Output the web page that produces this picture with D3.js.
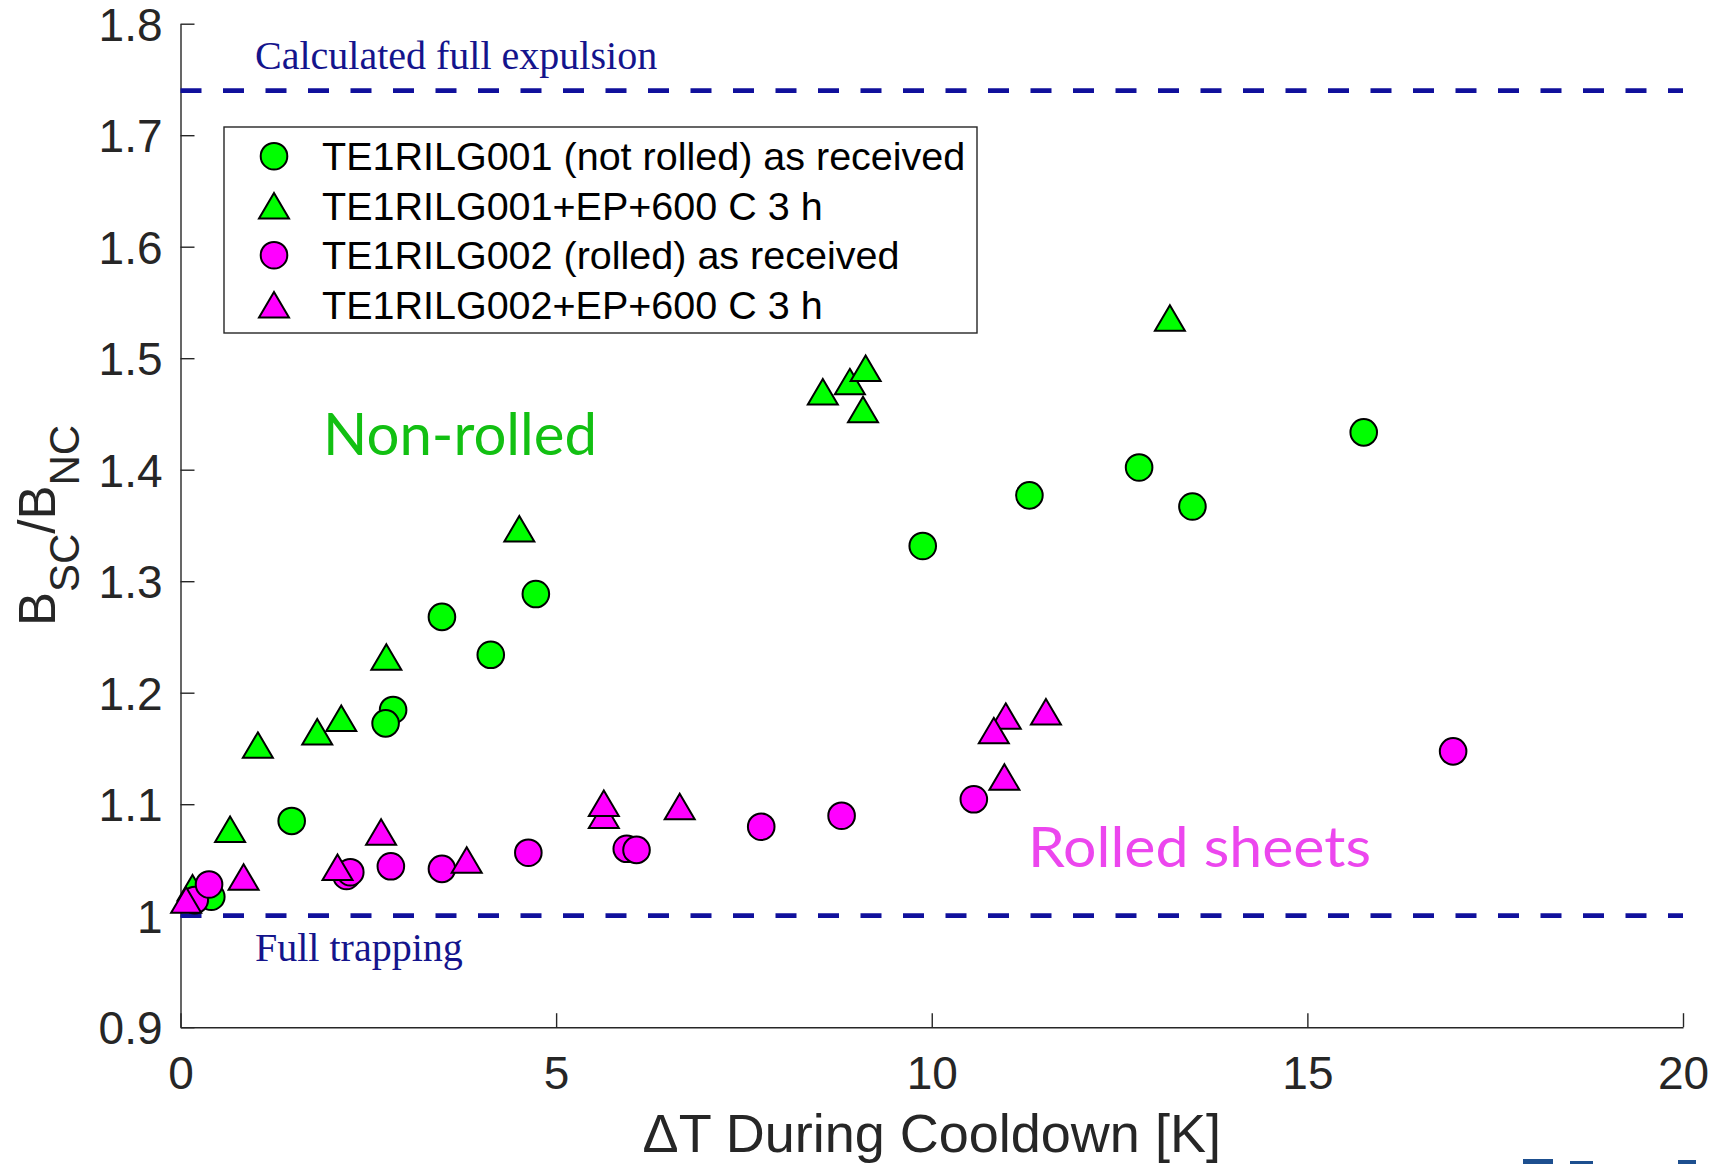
<!DOCTYPE html>
<html>
<head>
<meta charset="utf-8">
<script src="https://cdn.jsdelivr.net/npm/d3@7"></script>
<style>
  html, body { margin: 0; padding: 0; background: #ffffff; }
  svg { display: block; }
</style>
</head>
<body>
<svg id="chart" width="1725" height="1164"></svg>
<script>
// ---------------- DATA ----------------
const xTicks = [0, 5, 10, 15, 20];
const yTicks = [0.9, 1.0, 1.1, 1.2, 1.3, 1.4, 1.5, 1.6, 1.7, 1.8];
const yTickLabels = ["0.9", "1", "1.1", "1.2", "1.3", "1.4", "1.5", "1.6", "1.7", "1.8"];

const seriesNames = [
  "TE1RILG001 (not rolled) as received",
  "TE1RILG001+EP+600 C 3 h",
  "TE1RILG002 (rolled) as received",
  "TE1RILG002+EP+600 C 3 h"
];

// TE1RILG001 (not rolled) as received  — green circles
const g001RecX = [0.41, 1.48, 2.83, 2.73, 3.48, 4.13, 4.73, 9.88, 11.30, 12.76, 13.47, 15.75];
const g001RecY = [1.017, 1.085, 1.1845, 1.1725, 1.268, 1.234, 1.2885, 1.3316, 1.377, 1.402, 1.367, 1.4335];

// TE1RILG001+EP+600 C 3 h — green triangles
const g001EpX = [0.16, 0.66, 1.03, 1.82, 2.14, 2.74, 4.51, 8.55, 8.91, 9.12, 9.085, 13.17];
const g001EpY = [1.025, 1.0775, 1.153, 1.165, 1.177, 1.232, 1.347, 1.470, 1.479, 1.491, 1.454, 1.536];

// TE1RILG002 (rolled) as received — magenta circles
const g002RecX = [0.19, 0.38, 2.21, 2.26, 2.80, 3.48, 4.63, 5.94, 6.07, 7.73, 8.80, 10.56, 16.94];
const g002RecY = [1.014, 1.028, 1.0356, 1.039, 1.0443, 1.042, 1.0565, 1.060, 1.059, 1.0798, 1.0897, 1.1044, 1.1474];

// TE1RILG002+EP+600 C 3 h — magenta triangles
const g002EpX = [0.075, 0.84, 2.09, 2.67, 3.81, 5.635, 5.635, 6.645, 10.985, 10.826, 10.967, 11.52];
const g002EpY = [1.014, 1.0347, 1.0434, 1.075, 1.050, 1.090, 1.1008, 1.098, 1.179, 1.166, 1.1244, 1.183];

// reference levels
const fullExpulsion = 1.74;
const fullTrapping = 1.0;

// ---------------- LAYOUT / STYLE ----------------
const xDomain = [0, 20];
const yDomain = [0.9, 1.8];
const plotLeft = 180.5, plotRight = 1683, plotTop = 23.7, plotBottom = 1027.2;
const axisColor = "#262626";
const navy = "#10109c";
const green = "#00ff00";
const magenta = "#ff00ff";
const tickFont = 46;
const labelFont = 51;
const xLabelFont = 54;
const legendFont = 39.5;

const svg = d3.select("#chart");
const x = d3.scaleLinear().domain(xDomain).range([plotLeft, plotRight]);
const y = d3.scaleLinear().domain(yDomain).range([plotBottom, plotTop]);

// ---------------- AXES ----------------
const xAxis = d3.axisBottom(x).tickValues(xTicks).tickFormat(d3.format("d"))
  .tickSizeInner(-14).tickSizeOuter(0).tickPadding(29);
const yAxis = d3.axisLeft(y).tickValues(yTicks).tickFormat((d, i) => yTickLabels[i])
  .tickSizeInner(-14).tickSizeOuter(0).tickPadding(18);

const gx = svg.append("g").attr("transform", `translate(0,${plotBottom})`).call(xAxis);
const gy = svg.append("g").attr("transform", `translate(${plotLeft},0)`).call(yAxis);

[gx, gy].forEach(g => {
  g.select(".domain").attr("stroke", axisColor).attr("stroke-width", 1.4);
  g.selectAll(".tick line").attr("stroke", axisColor).attr("stroke-width", 1.4);
  g.selectAll(".tick text")
    .attr("fill", axisColor)
    .style("font-family", "'Liberation Sans', Arial, Helvetica, sans-serif")
    .style("font-size", tickFont + "px");
});
gy.selectAll(".tick text").attr("dy", "0.36em");

// Axis labels
svg.append("text")
  .attr("x", (plotLeft + plotRight) / 2)
  .attr("y", 1152)
  .attr("text-anchor", "middle")
  .attr("fill", axisColor)
  .style("font-family", "'Liberation Sans', Arial, Helvetica, sans-serif")
  .style("font-size", xLabelFont + "px")
  .text("\u0394T During Cooldown [K]");

const yl = svg.append("text")
  .attr("transform", `translate(55,${(plotTop + plotBottom) / 2}) rotate(-90)`)
  .attr("text-anchor", "middle")
  .attr("fill", axisColor)
  .style("font-family", "'Liberation Sans', Arial, Helvetica, sans-serif")
  .style("font-size", labelFont + "px");
yl.append("tspan").text("B");
yl.append("tspan").attr("dy", 24).style("font-size", "42px").text("SC");
yl.append("tspan").attr("dy", -24).text("/B");
yl.append("tspan").attr("dy", 24).style("font-size", "42px").text("NC");

// ---------------- REFERENCE LINES ----------------
[fullExpulsion, fullTrapping].forEach(v => {
  svg.append("line")
    .attr("x1", x(xDomain[0])).attr("x2", x(xDomain[1]))
    .attr("y1", y(v)).attr("y2", y(v))
    .attr("stroke", navy).attr("stroke-width", 4.8)
    .attr("stroke-dasharray", "21,21.5");
});

svg.append("text")
  .attr("x", 255).attr("y", 69)
  .attr("fill", "#14148c")
  .style("font-family", "'Liberation Serif', 'Times New Roman', serif")
  .style("font-size", "40px")
  .text("Calculated full expulsion");

svg.append("text")
  .attr("x", 255).attr("y", 961)
  .attr("fill", "#14148c")
  .style("font-family", "'Liberation Serif', 'Times New Roman', serif")
  .style("font-size", "40px")
  .text("Full trapping");

// ---------------- MARKERS ----------------
const circleR = 13.3;
const triW = 30, triH = 25.5;
const triPath = `M0,${-triH / 2}L${triW / 2},${triH / 2}L${-triW / 2},${triH / 2}Z`;

function drawCircles(xs, ys, fill) {
  svg.append("g").selectAll("circle")
    .data(xs.map((v, i) => [v, ys[i]]))
    .join("circle")
    .attr("cx", d => x(d[0])).attr("cy", d => y(d[1]))
    .attr("r", circleR)
    .attr("fill", fill).attr("stroke", "#000").attr("stroke-width", 2);
}
function drawTriangles(xs, ys, fill) {
  svg.append("g").selectAll("path")
    .data(xs.map((v, i) => [v, ys[i]]))
    .join("path")
    .attr("d", triPath)
    .attr("transform", d => `translate(${x(d[0])},${y(d[1])})`)
    .attr("fill", fill).attr("stroke", "#000").attr("stroke-width", 2)
    .attr("stroke-linejoin", "miter");
}

drawCircles(g001RecX, g001RecY, green);
drawTriangles(g001EpX, g001EpY, green);
drawCircles(g002RecX, g002RecY, magenta);
drawTriangles(g002EpX, g002EpY, magenta);

// ---------------- LEGEND ----------------
const legend = svg.append("g");
legend.append("rect")
  .attr("x", 224).attr("y", 127).attr("width", 753).attr("height", 206)
  .attr("fill", "#fff").attr("stroke", axisColor).attr("stroke-width", 1.4);
const legRows = [156.2, 205.7, 255.2, 304.7];
const legFill = [green, green, magenta, magenta];
const legShape = ["circle", "tri", "circle", "tri"];
seriesNames.forEach((name, i) => {
  if (legShape[i] === "circle") {
    legend.append("circle").attr("cx", 274).attr("cy", legRows[i]).attr("r", circleR)
      .attr("fill", legFill[i]).attr("stroke", "#000").attr("stroke-width", 2);
  } else {
    legend.append("path").attr("d", triPath)
      .attr("transform", `translate(274,${legRows[i]})`)
      .attr("fill", legFill[i]).attr("stroke", "#000").attr("stroke-width", 2);
  }
  legend.append("text")
    .attr("x", 322).attr("y", legRows[i]).attr("dy", "0.36em")
    .attr("fill", "#000")
    .style("font-family", "'Liberation Sans', Arial, Helvetica, sans-serif")
    .style("font-size", legendFont + "px")
    .text(name);
});

// ---------------- ANNOTATIONS ----------------
svg.append("text")
  .attr("x", 323).attr("y", 455)
  .attr("fill", "#12c012")
  .attr("textLength", 274).attr("lengthAdjust", "spacingAndGlyphs")
  .style("font-family", "Lato, 'Open Sans', sans-serif")
  .style("font-size", "59px")
  .text("Non-rolled");

svg.append("text")
  .attr("x", 1028).attr("y", 866.7)
  .attr("fill", "#ec46ee")
  .attr("textLength", 343).attr("lengthAdjust", "spacingAndGlyphs")
  .style("font-family", "Lato, 'Open Sans', sans-serif")
  .style("font-size", "57px")
  .text("Rolled sheets");

// cut-off logo fragments at bottom-right edge
const logo = svg.append("g").attr("fill", "#1d4f8f");
logo.append("rect").attr("x", 1523).attr("y", 1159).attr("width", 30).attr("height", 5);
logo.append("rect").attr("x", 1570).attr("y", 1161).attr("width", 23).attr("height", 3);
logo.append("rect").attr("x", 1678).attr("y", 1160).attr("width", 18).attr("height", 4);
</script>
</body>
</html>
